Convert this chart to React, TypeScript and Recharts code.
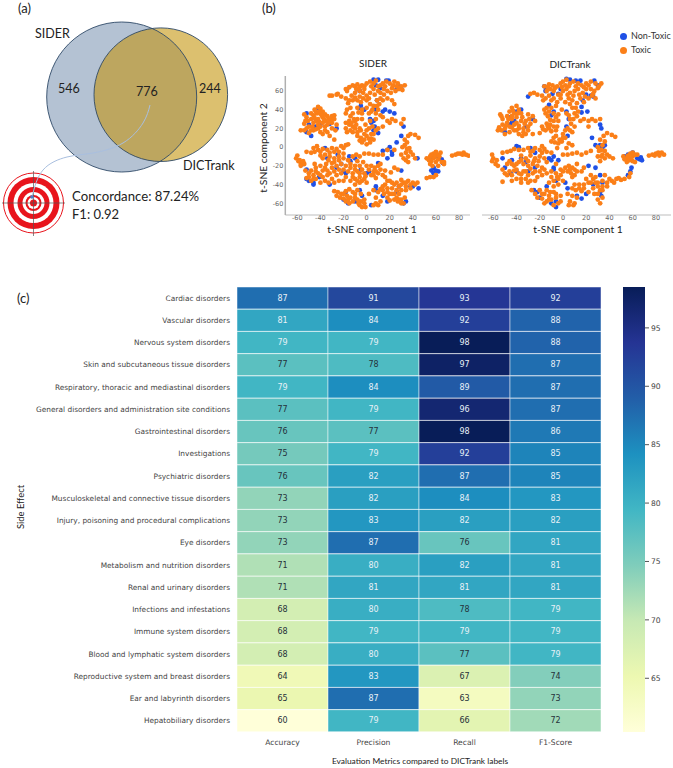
import React from "react";
import { ScatterChart, Scatter, XAxis, YAxis, BarChart, Bar, Legend } from "recharts";

const sideEffects = ["Cardiac disorders","Vascular disorders","Nervous system disorders","Skin and subcutaneous tissue disorders","Respiratory, thoracic and mediastinal disorders","General disorders and administration site conditions","Gastrointestinal disorders","Investigations","Psychiatric disorders","Musculoskeletal and connective tissue disorders","Injury, poisoning and procedural complications","Eye disorders","Metabolism and nutrition disorders","Renal and urinary disorders","Infections and infestations","Immune system disorders","Blood and lymphatic system disorders","Reproductive system and breast disorders","Ear and labyrinth disorders","Hepatobiliary disorders"];
const metrics = ["Accuracy","Precision","Recall","F1-Score"];
const accuracy = [87,81,79,77,79,77,76,75,76,73,73,73,71,71,68,68,68,64,65,60];
const precision = [91,84,79,78,84,79,77,79,82,82,83,87,80,81,80,79,80,83,87,79];
const recall = [93,92,98,97,89,96,98,92,87,84,82,76,82,81,78,79,77,67,63,66];
const f1 = [92,88,88,87,87,87,86,85,85,83,82,81,81,81,79,79,79,74,73,72];
const colorbarTicks = [65,70,75,80,85,90,95];
const ylGnBu = ["#ffffd9","#edf8b1","#c7e9b4","#7fcdbb","#41b6c4","#1d91c0","#225ea8","#253494","#081d58"];

const siderToxic = [[-30,55],[-32,55],[-26,56],[-25,57],[-22,54],[-18,52],[-17,60],[-15,64],[-18,62],[-12,66],[-10,65],[-8,67],[-4,66],[-2,62],[0,68],[3,70],[6,68],[8,71],[12,66],[14,68],[17,70],[20,68],[24,70],[27,68],[30,65],[33,66],[28,62],[25,60],[22,63],[18,60],[15,62],[12,58],[10,60],[6,62],[3,58],[0,55],[-3,58],[-6,60],[-10,58],[-13,55],[-16,47],[-12,50],[-8,50],[-5,48],[-3,52],[0,50],[3,46],[6,44],[9,50],[11,46],[14,50],[18,52],[22,50],[24,46],[-17,40],[-14,42],[-18,36],[-12,36],[-8,42],[-4,40],[0,42],[4,38],[8,36],[10,40],[12,34],[8,30],[14,32],[18,28],[22,30],
[-42,43],[-45,40],[-40,41],[-38,38],[-43,36],[-46,34],[-48,30],[-42,30],[-38,32],[-36,35],[-33,30],[-30,33],[-28,34],[-30,26],[-34,24],[-38,26],[-42,24],[-46,26],[-50,22],[-54,25],[-52,32],[-54,35],[-57,18],[-54,18],[-50,15],[-46,18],[-42,20],[-40,16],[-38,14],[-34,16],[-30,20],[-27,18],[-32,12],[-28,8],[-36,22],[-44,28],[-48,36],[-51,28],[-40,36],[-36,28],
[-18,26],[-15,24],[-12,22],[-18,20],[-14,18],[-10,20],[-8,16],[-5,18],[-12,16],[-4,30],[-8,30],[-10,28],[-1,24],[3,28],[5,22],[8,18],[0,18],[4,14],[10,20],[14,22],[25,28],[30,25],[32,30],[20,26],[-8,12],[-5,10],[-2,8],[0,12],[2,9],[-4,5],[0,3],[3,5],[6,8],[-6,7],
[33,8],[36,12],[38,14],[42,13],[45,10],[35,5],[33,2],[31,0],[35,-2],[38,-5],[36,-10],[40,-8],[42,-12],[34,-14],[36,-16],[30,-8],[24,-3],[18,-3],[14,-8],[10,-8],[6,-8],[2,-7],[-2,-7],[-6,-10],[-9,-8],
[52,-12],[55,-10],[58,-7],[61,-8],[64,-6],[58,-12],[62,-13],[56,-15],[60,-16],[65,-16],[67,-16],[67,-18],[55,-18],[57,-20],[62,-20],[55,-32],[58,-32],[60,-30],[52,-33],[74,-9],[77,-8],[79,-7],[81,-7],[84,-6],[86,-8],[83,-8],[88,-9],
[-60,-9],[-61,-12],[-59,-15],[-57,-18],[-58,-14],[-55,-15],[-54,-18],[-57,-20],[-52,-5],[-48,-6],[-45,-5],[-42,-3],[-40,-5],[-46,-1],[-43,1],[-38,-2],[-34,-3],[-30,-1],[-28,-5],[-24,-5],[-20,-1],[-18,2],[-16,3],[-22,1],[-36,-8],[-32,-10],[-28,-12],[-24,-14],[-20,-12],[-16,-14],[-12,-10],[-8,-15],[-30,-17],[-35,-18],[-40,-20],[-44,-22],[-48,-25],[-53,-25],[-50,-28],[-46,-30],[-42,-28],[-38,-25],[-34,-25],[-30,-22],[-26,-20],[-22,-18],[-18,-20],[-14,-22],[-38,-32],[-34,-30],[-30,-34],[-26,-30],[-22,-28],[-18,-32],[-48,-36],[-52,-33],[-44,-34],[-40,-38],[-36,-36],[-28,-38],[-24,-36],[-20,-24],[-12,-28],[-8,-26],[-4,-24],[-2,-28],[-6,-32],[-10,-34],[-14,-36],[-10,-40],[-6,-38],[-4,-36],[-2,-34],[0,-38],[4,-20],[7,-22],[10,-20],[12,-24],[6,-26],[10,-28],[14,-30],[4,-30],[8,-33],[-6,-20],[0,-20],[-3,-16],
[-28,-47],[-25,-48],[-22,-50],[-18,-47],[-15,-45],[-20,-55],[-17,-52],[-14,-54],[-10,-50],[-8,-46],[-5,-50],[-18,-58],[-15,-60],[-12,-58],[-8,-56],[-5,-58],[-2,-56],[-6,-62],[-4,-64],[-2,-60],[2,-50],[6,-62],[10,-62],[12,-58],[8,-54],[10,-48],[12,-45],[15,-50],[18,-54],[20,-57],[24,-56],[27,-58],[30,-56],[33,-54],[32,-60],[16,-40],[18,-36],[16,-32],[20,-36],[24,-40],[28,-42],[32,-38],[36,-36],[40,-38],[44,-38],[30,-35],[34,-42],[38,-44],[26,-46],[22,-44],[18,-44],[14,-42],[16,-25],[24,-22],[27,-24],[21,-27],[20,-50],[28,-50],[24,-50],
[-44,38],[-41,38],[-39,34],[-45,31],[-34,33],[-31,29],[-37,30],[-41,27],[-47,22],[-44,19],[-36,18],[-33,26],[-40,22],[-52,20],[-48,18],[-53,28],[-28,30],[-26,24],
[-9,62],[-6,64],[-2,65],[4,65],[10,65],[16,65],[23,66],[26,65],[31,61],[21,58],[15,56],[7,56],[2,52],[-6,54],[-10,53],[-15,50],[12,52],[5,40],[2,36],[9,44],[-7,37],[-14,33],[-11,30],[-15,28],[-4,36],
[-9,24],[-13,26],[-6,20],[-17,16],[2,20],[6,14],[-2,14],[4,9],
[-38,-12],[-33,-14],[-28,-16],[-24,-10],[-20,-7],[-26,-2],[-32,-6],[-40,-9],[-44,-26],[-40,-30],[-36,-22],[-32,-28],[-28,-26],[-24,-24],[-16,-26],[-14,-18],[-10,-24],[-6,-28],[-10,-20],[-45,-18],[-50,-32],[-46,-34],[-33,-38],[-20,-36],[-12,-32],[-8,-36],[2,-24],[8,-26],[12,-18],[6,-30],[-1,-31],
[-23,-54],[-26,-52],[-12,-48],[-20,-50],[-16,-56],[-10,-54],[-7,-60],[-1,-64],[22,-38],[26,-38],[30,-40],[34,-38],[38,-40],[42,-40],[30,-46],[34,-46],[22,-50],[26,-54],[18,-48],[14,-46],[30,-60],[28,-56],[8,-60],[6,-46],
[34,-6],[37,-1],[32,-12],[54,-14],[59,-10],[63,-10],[56,-8],[60,-5]];

const siderNonToxic = [[6,72],[10,72],[17,71],[19,71],[28,65],[30,63],[-17,62],[-6,60],[8,66],[12,63],[26,62],[-6,42],[-2,40],[8,40],[14,38],[16,40],[20,38],[24,36],[9,50],[-5,44],[3,30],[6,28],[7,22],[4,26],[10,15],[6,18],[-42,42],[-44,22],[-52,16],[-48,12],[-50,24],[-32,25],[-40,24],[-26,20],[-52,36],[32,22],[30,12],[26,5],[20,0],[18,-3],[14,-4],[22,-5],[-36,-1],[-25,-8],[-34,-12],[-22,-18],[-15,-10],[-10,-12],[-14,-15],[-55,-18],[-52,-24],[-52,-34],[-50,-36],[-46,-38],[-46,-40],[-41,-32],[-32,-40],[-26,-22],[-20,-26],[-18,-28],[0,-28],[2,-26],[10,-17],[-18,-48],[-20,-56],[-16,-60],[-10,-58],[-6,-46],[-4,-52],[8,-42],[8,-46],[4,-62],[14,-52],[18,-58],[28,-42],[26,-48],[32,-60],[34,-58],[40,-42],[45,-44],[38,-42],[44,-12],[56,-10],[58,-8],[65,-13],[66,-17],[58,-22],[60,-25],[62,-26],[56,-25],[58,-28],[62,-10],[30,-25],[-5,-24],[18,-12],[22,-8]];

const dictToxic = [[-28,57],[-25,58],[-22,56],[-17,50],[-15,52],[-18,55],[-14,60],[-16,65],[-12,67],[-9,66],[-11,62],[-5,65],[-2,68],[0,70],[3,72],[6,68],[2,66],[9,70],[13,68],[16,66],[20,68],[24,70],[28,68],[33,68],[30,63],[27,60],[25,55],[28,52],[24,62],[20,62],[17,58],[13,62],[10,60],[6,58],[3,62],[0,60],[-4,56],[-8,60],[-12,55],[-8,52],[-5,48],[-2,52],[2,48],[5,52],[8,50],[12,47],[15,52],[18,48],[22,52],[-14,42],[-16,40],[-12,38],[-10,42],[-15,36],[-8,36],[-4,35],[-1,40],[3,36],[8,42],[10,36],[9,30],[12,33],[6,30],[7,25],[15,28],[18,30],[22,28],[25,30],[28,28],[32,30],[22,22],
[-40,44],[-44,42],[-38,40],[-42,36],[-46,38],[-40,32],[-36,36],[-30,35],[-26,33],[-32,28],[-28,25],[-36,28],[-44,30],[-48,33],[-54,35],[-52,30],[-56,18],[-53,18],[-50,14],[-46,16],[-42,18],[-38,20],[-42,24],[-46,22],[-48,26],[-52,24],[-34,20],[-30,18],[-26,14],[-32,14],[-35,12],[-30,22],[-38,14],[-24,28],[-40,26],[-50,20],
[-18,22],[-14,25],[-12,20],[-8,22],[-15,18],[-10,17],[-6,18],[-4,28],[-8,28],[-20,15],[-3,8],[-8,10],[-4,4],[-1,6],[2,10],[-6,12],[0,14],[2,18],[4,20],[8,16],[10,22],[-10,6],[-5,-1],[3,-1],[8,2],[5,4],
[32,8],[35,12],[38,15],[42,13],[45,11],[36,6],[34,2],[30,0],[33,-3],[36,-4],[33,-10],[36,-12],[40,-10],[43,-12],[32,-15],[30,-10],[24,-4],[20,-6],[16,-8],[12,-6],[8,-7],[4,-8],[0,-8],
[52,-10],[55,-12],[58,-7],[60,-10],[62,-8],[64,-8],[57,-14],[60,-15],[55,-16],[62,-16],[57,-32],[53,-34],[50,-35],[58,-28],[74,-9],[77,-8],[80,-7],[82,-6],[85,-6],[87,-8],[83,-9],[79,-9],
[-61,-8],[-60,-12],[-61,-15],[-58,-18],[-56,-20],[-57,-14],[-52,-6],[-48,-5],[-45,-4],[-42,-2],[-38,-3],[-34,-3],[-30,-1],[-26,-4],[-24,-1],[-20,-3],[-18,1],[-16,-2],[-14,-5],[-10,-6],[-36,-9],[-32,-12],[-28,-9],[-24,-12],[-20,-10],[-16,-12],[-46,-15],[-44,-18],[-48,-18],[-42,-20],[-38,-16],[-34,-18],[-30,-20],[-26,-18],[-22,-20],[-18,-22],[-14,-16],[-52,-24],[-50,-28],[-46,-26],[-42,-25],[-38,-28],[-34,-26],[-30,-30],[-26,-28],[-22,-32],[-18,-30],[-40,-34],[-36,-34],[-32,-34],[-44,-36],[-52,-37],[-28,-36],[-24,-36],[-14,-28],[-10,-32],[-6,-28],[-4,-34],[-8,-36],[-12,-38],[-4,-40],[0,-36],[2,-22],[5,-20],[8,-22],[10,-24],[4,-26],[7,-28],[10,-30],[-2,-24],[-6,-18],[12,-18],
[-27,-46],[-24,-50],[-20,-46],[-16,-50],[-14,-46],[-12,-52],[-8,-48],[-18,-55],[-14,-58],[-10,-56],[-6,-54],[-4,-60],[-8,-62],[-2,-52],[5,-62],[10,-60],[8,-52],[11,-46],[14,-40],[18,-44],[22,-48],[27,-50],[30,-56],[32,-60],[34,-54],[32,-46],[20,-34],[24,-38],[28,-32],[30,-38],[34,-36],[38,-42],[42,-36],[46,-34],[48,-33],[36,-30],[40,-34],[18,-22],[16,-26],[26,-34],[34,-42],[10,-40],[8,-44],[4,-50],
[-43,39],[-39,36],[-44,33],[-35,32],[-33,25],[-38,23],[-44,21],[-49,23],[-40,18],[-47,30],[-29,30],[-34,16],[-53,33],[-55,21],
[-13,64],[-7,63],[-1,64],[5,65],[11,65],[18,64],[22,66],[31,65],[26,57],[19,54],[14,56],[9,55],[4,56],[-2,56],[-10,50],[-6,44],[-13,33],[-11,29],[-6,32],[6,46],[11,42],[5,34],[13,38],
[-13,22],[-17,19],[-11,24],[-5,22],[0,10],[6,18],[-7,5],
[-40,-18],[-36,-14],[-30,-15],[-25,-15],[-21,-15],[-18,-6],[-28,-5],[-40,-24],[-36,-29],[-32,-26],[-28,-23],[-24,-26],[-20,-26],[-16,-24],[-44,-30],[-48,-30],[-36,-38],[-30,-38],[-10,-26],[-5,-32],[-2,-30],[-8,-42],[6,-24],[8,-32],[12,-26],[0,-26],
[-22,-54],[-18,-50],[-12,-56],[-16,-60],[-6,-50],[-11,-48],[-2,-58],[14,-44],[16,-47],[22,-38],[26,-44],[30,-42],[34,-46],[38,-38],[44,-38],[28,-38],[24,-30],[18,-40],[12,-54],[30,-50],[6,-58],[9,-62],
[34,-8],[38,-8],[31,-4],[58,-12],[53,-13],[60,-6],[56,-9]];

const dictNonToxic = [[-30,54],[-16,65],[-14,62],[-15,60],[-9,57],[-4,57],[-2,62],[3,73],[6,72],[11,71],[15,71],[27,71],[30,66],[24,55],[20,56],[17,50],[26,54],[-12,45],[-8,38],[-10,34],[3,38],[16,37],[21,38],[16,43],[-40,38],[-44,26],[-46,24],[-50,16],[-42,28],[-32,22],[-26,30],[-36,40],[-45,32],[4,12],[5,30],[3,22],[33,20],[32,24],[25,10],[28,2],[32,2],[34,0],[36,2],[-40,1],[-38,0],[-28,-1],[-24,-6],[-44,-14],[-52,-12],[-36,-12],[-32,-16],[-12,-12],[-10,-14],[-8,-10],[-8,-22],[-40,-26],[-45,-28],[-30,-26],[-24,-22],[-50,-22],[66,-13],[68,-14],[67,-11],[64,-12],[58,-26],[56,-30],[59,-22],[53,-10],[60,-6],[56,-8],[-22,-48],[-25,-46],[-20,-54],[-10,-60],[-6,-58],[-6,-64],[-14,-42],[-6,-36],[-8,-24],[2,-38],[4,-44],[12,-52],[16,-55],[20,-50],[26,-40],[32,-48],[34,-38],[32,-30],[28,-22],[22,-20],[33,-52],[-4,-14]];

const tsneXTicks = [-60,-40,-20,0,20,40,60,80];
const tsneYTicks = [-60,-40,-20,0,20,40,60];

const vennSider = [{ x: 121.7, y: 97, r: 75 }];
const vennDict = [{ x: 160.8, y: 94.7, r: 66.8 }];
const targetRings = [30, 26, 20, 16, 11, 8, 6, 3.5];
const targetHLine = [{ x: 2, y: 203 }, { x: 65, y: 203 }];
const targetVLine = [{ x: 33.5, y: 171 }, { x: 33.5, y: 236 }];
const leaderCurve = [{ x: 150, y: 105 }, { x: 143, y: 123 }, { x: 123, y: 143 }, { x: 93, y: 153 }, { x: 67, y: 157 }, { x: 43, y: 170 }, { x: 32, y: 197 }];

const toPts = (a: number[][]) => a.map(([x, y]) => ({ x, y }));
const colorOf = (v: number) => {
  const t = Math.max(0, Math.min(1, (v - 60) / 38)) * 8;
  const i = Math.min(7, Math.floor(t));
  const f = t - i;
  const h = (s: string, k: number) => parseInt(s.slice(k, k + 2), 16);
  const mix = (k: number) => Math.round(h(ylGnBu[i], k) * (1 - f) + h(ylGnBu[i + 1], k) * f);
  return `rgb(${mix(1)},${mix(3)},${mix(5)})`;
};

const rows = sideEffects.map((name, i) => ({ name, Accuracy: accuracy[i], Precision: precision[i], Recall: recall[i], "F1-Score": f1[i] }));
const barData = [{ name: "scale", range: [60.4, 98.5] }];

const DEJAVU = "'DejaVu Sans', sans-serif";
const LATO = "Lato, sans-serif";
const BLUE = "#1f50e6";
const ORANGE = "#fb7f18";

const Txt = ({ x, y, size, children, anchor = "left", color = "#222", rotate, font = LATO }: any) => (
  <div style={{
    position: "absolute", left: x, top: y, fontFamily: font, fontSize: size, color, whiteSpace: "nowrap", lineHeight: 1,
    transform: `translate(${anchor === "center" ? "-50%" : "0"},-50%)${rotate ? ` rotate(${rotate}deg)` : ""}`,
  }}>{children}</div>
);

const Cell = (metric: string) => (p: any) => {
  const v = p.payload[metric];
  return (
    <g>
      <rect x={p.x} y={p.y} width={p.width} height={p.height} fill={colorOf(v)} stroke="rgba(255,255,255,0.6)" strokeWidth={0.8} />
      <text x={p.x + p.width / 2} y={p.y + p.height / 2} textAnchor="middle" dominantBaseline="central" fontFamily={DEJAVU} fontSize={8}
        fill={v >= 79 ? "#e8f0f6" : "#26323a"}>{v}</text>
    </g>
  );
};

const SideEffectTick = (p: any) => (
  <text x={p.x} y={p.y} textAnchor="end" dominantBaseline="central" fontFamily={DEJAVU} fontSize={7.4} fill="#444">{p.payload.value}</text>
);

const Disc = (fill: string, stroke: string, sw = 1) => (p: any) => (
  <circle cx={p.cx} cy={p.cy} r={p.payload.r} fill={fill} stroke={stroke} strokeWidth={sw} />
);
const Overlap = (p: any) => (
  <g>
    <defs>
      <clipPath id="siderClip"><circle cx={vennSider[0].x} cy={vennSider[0].y} r={vennSider[0].r} /></clipPath>
    </defs>
    <circle cx={p.cx} cy={p.cy} r={p.payload.r} fill="#bda65f" clipPath="url(#siderClip)" />
  </g>
);
const Ring = (p: any) => {
  const i = targetRings.indexOf(p.payload.r);
  const fill = i === 0 ? "#fff" : i % 2 === 1 ? "#e8141c" : "#fff";
  return <circle cx={p.cx} cy={p.cy} r={p.payload.r} fill={fill} stroke={i === 0 ? "#e8141c" : "none"} strokeWidth={1} />;
};
const NoMark = () => <g />;
const Dot = (fill: string) => (p: any) => <circle cx={p.cx} cy={p.cy} r={2.4} fill={fill} />;

const Tsne = ({ left, width, marginLeft, xDomain, nonToxic, toxic, showY, top, height, marginTop, legend }: any) => (
  <div style={{ position: "absolute", left, top }}>
    <ScatterChart width={width} height={height} margin={{ top: marginTop, right: 0, bottom: 0, left: marginLeft }}>
      <XAxis type="number" dataKey="x" domain={xDomain} ticks={tsneXTicks} height={15} tickLine={false} tickSize={0} tickMargin={0}
        axisLine={{ stroke: "#bdbdbd", strokeWidth: 1.2 }} tick={{ fontSize: 6.5, fill: "#666", fontFamily: DEJAVU }} />
      <YAxis type="number" dataKey="y" domain={[-72.5, 76]} ticks={showY ? tsneYTicks : []} width={showY ? 30 : 0} tickLine={false} tickSize={0} tickMargin={2}
        axisLine={{ stroke: "#b0b0b0", strokeWidth: 1.5 }} tick={showY ? { fontSize: 6.5, fill: "#666", fontFamily: DEJAVU } : false} />
      {legend && <Legend layout="vertical" align="center" verticalAlign="middle" iconType="circle" iconSize={7}
        wrapperStyle={{ left: 150, top: 9, width: 70, fontSize: 9, fontFamily: LATO, lineHeight: "14px", whiteSpace: "nowrap" }}
        formatter={(v: string) => <span style={{ color: "#333" }}>{v}</span>} />}
      <Scatter name="Non-Toxic" data={toPts(nonToxic)} fill={BLUE} shape={Dot(BLUE)} isAnimationActive={false} />
      <Scatter name="Toxic" data={toPts(toxic)} fill={ORANGE} shape={Dot(ORANGE)} isAnimationActive={false} />
    </ScatterChart>
  </div>
);

export default function App() {
  return (
    <div style={{ position: "absolute", left: 0, top: 0, width: 673, height: 768, background: "#fff", overflow: "hidden" }}>
      {/* (a) Venn + target */}
      <div style={{ position: "absolute", left: 0, top: 0 }}>
        <ScatterChart width={240} height={245} margin={{ top: 0, right: 0, bottom: 0, left: 0 }}>
          <XAxis type="number" dataKey="x" domain={[0, 240]} hide />
          <YAxis type="number" dataKey="y" domain={[0, 245]} reversed hide />
          <Scatter data={vennSider} shape={Disc("#b4c2d3", "none")} isAnimationActive={false} />
          <Scatter data={vennDict} shape={Disc("#dcc06f", "none")} isAnimationActive={false} />
          <Scatter data={vennDict} shape={Overlap} isAnimationActive={false} />
          <Scatter data={vennSider} shape={Disc("none", "#2f4a68", 0.9)} isAnimationActive={false} />
          <Scatter data={vennDict} shape={Disc("none", "#2f4a68", 0.9)} isAnimationActive={false} />
          <Scatter data={targetRings.map((r) => ({ x: 33.5, y: 203, r }))} shape={Ring} isAnimationActive={false} />
          <Scatter data={targetHLine} line={{ stroke: "#555", strokeWidth: 0.7 }} lineType="joint" shape={NoMark} isAnimationActive={false} />
          <Scatter data={targetVLine} line={{ stroke: "#555", strokeWidth: 0.7 }} lineType="joint" shape={NoMark} isAnimationActive={false} />
          <Scatter data={leaderCurve} line={{ stroke: "#a9bfdf", strokeWidth: 1 }} lineType="joint" lineJointType="natural" shape={NoMark} isAnimationActive={false} />
          <Scatter data={leaderCurve.slice(-1)} fill="#4a7fc8" shape={(p: any) => <circle cx={p.cx} cy={p.cy} r={1.8} fill="#4a7fc8" />} isAnimationActive={false} />
        </ScatterChart>
      </div>
      <Txt x={18} y={8} size={13}>(a)</Txt>
      <Txt x={35} y={34} size={12.5}>SIDER</Txt>
      <Txt x={58} y={89} size={12.5}>546</Txt>
      <Txt x={136} y={92} size={12.5}>776</Txt>
      <Txt x={199} y={89} size={12.5}>244</Txt>
      <Txt x={183} y={166} size={12.6}>DICTrank</Txt>
      <Txt x={72} y={197} size={13.2}>Concordance: 87.24%</Txt>
      <Txt x={72} y={214} size={13}>F1: 0.92</Txt>

      {/* (b) t-SNE */}
      <Txt x={262} y={8} size={13}>(b)</Txt>
      <Tsne left={250} top={60} width={220} height={170} marginTop={16} marginLeft={5.3} xDomain={[-70.4, 89.5]} nonToxic={siderNonToxic} toxic={siderToxic} showY />
      <Tsne left={470} top={20} width={201} height={210} marginTop={56} marginLeft={12} xDomain={[-69.7, 93]} nonToxic={dictNonToxic} toxic={dictToxic} legend />
      <Txt x={373} y={63} size={10} anchor="center">SIDER</Txt>
      <Txt x={570} y={64} size={10} anchor="center">DICTrank</Txt>
      <Txt x={372} y={229} size={10.3} anchor="center">t-SNE component 1</Txt>
      <Txt x={578} y={229} size={10.3} anchor="center">t-SNE component 1</Txt>
      <Txt x={263} y={148} size={10.3} anchor="center" rotate={-90}>t-SNE component 2</Txt>

      {/* (c) heat map */}
      <Txt x={17} y={298} size={13}>(c)</Txt>
      <div style={{ position: "absolute", left: 0, top: 287 }}>
        <BarChart layout="vertical" width={601} height={475} data={rows} barCategoryGap={0} margin={{ top: 0, right: 0, bottom: 0, left: 0 }}>
          <XAxis type="number" domain={[0, 4]} ticks={[0.5, 1.5, 2.5, 3.5]} tickFormatter={(v: number) => metrics[Math.floor(v)]}
            axisLine={false} tickLine={false} tickMargin={2} height={30} tick={{ fontSize: 7.6, fill: "#444", fontFamily: DEJAVU }} />
          <YAxis type="category" dataKey="name" width={237} interval={0} axisLine={false} tickLine={false} tickSize={0} tickMargin={7}
            tick={SideEffectTick} />
          {metrics.map((m) => (
            <Bar key={m} dataKey={() => 1} stackId="a" shape={Cell(m)} isAnimationActive={false} />
          ))}
        </BarChart>
      </div>
      <Txt x={21} y={507} size={9.4} anchor="center" rotate={-90}>Side Effect</Txt>
      <Txt x={420} y={761} size={8.4} anchor="center">Evaluation Metrics compared to DICTrank labels</Txt>

      {/* colour bar */}
      <div style={{ position: "absolute", left: 600, top: 287 }}>
        <BarChart width={73} height={445} data={barData} barCategoryGap={0} margin={{ top: 0, right: 0, bottom: 0, left: 23 }}>
          <defs>
            <linearGradient id="ylgnbu" x1="0" y1="1" x2="0" y2="0">
              {ylGnBu.map((c, i) => <stop key={c} offset={`${(i / 8) * 100}%`} stopColor={c} />)}
            </linearGradient>
          </defs>
          <XAxis dataKey="name" hide />
          <YAxis orientation="right" type="number" domain={[60.4, 98.5]} ticks={colorbarTicks} width={28} axisLine={false}
            tickSize={4} tickLine={{ stroke: "#555" }} tickMargin={2} tick={{ fontSize: 7.6, fill: "#444", fontFamily: DEJAVU }} />
          <Bar dataKey="range" fill="url(#ylgnbu)" isAnimationActive={false} />
        </BarChart>
      </div>
    </div>
  );
}
